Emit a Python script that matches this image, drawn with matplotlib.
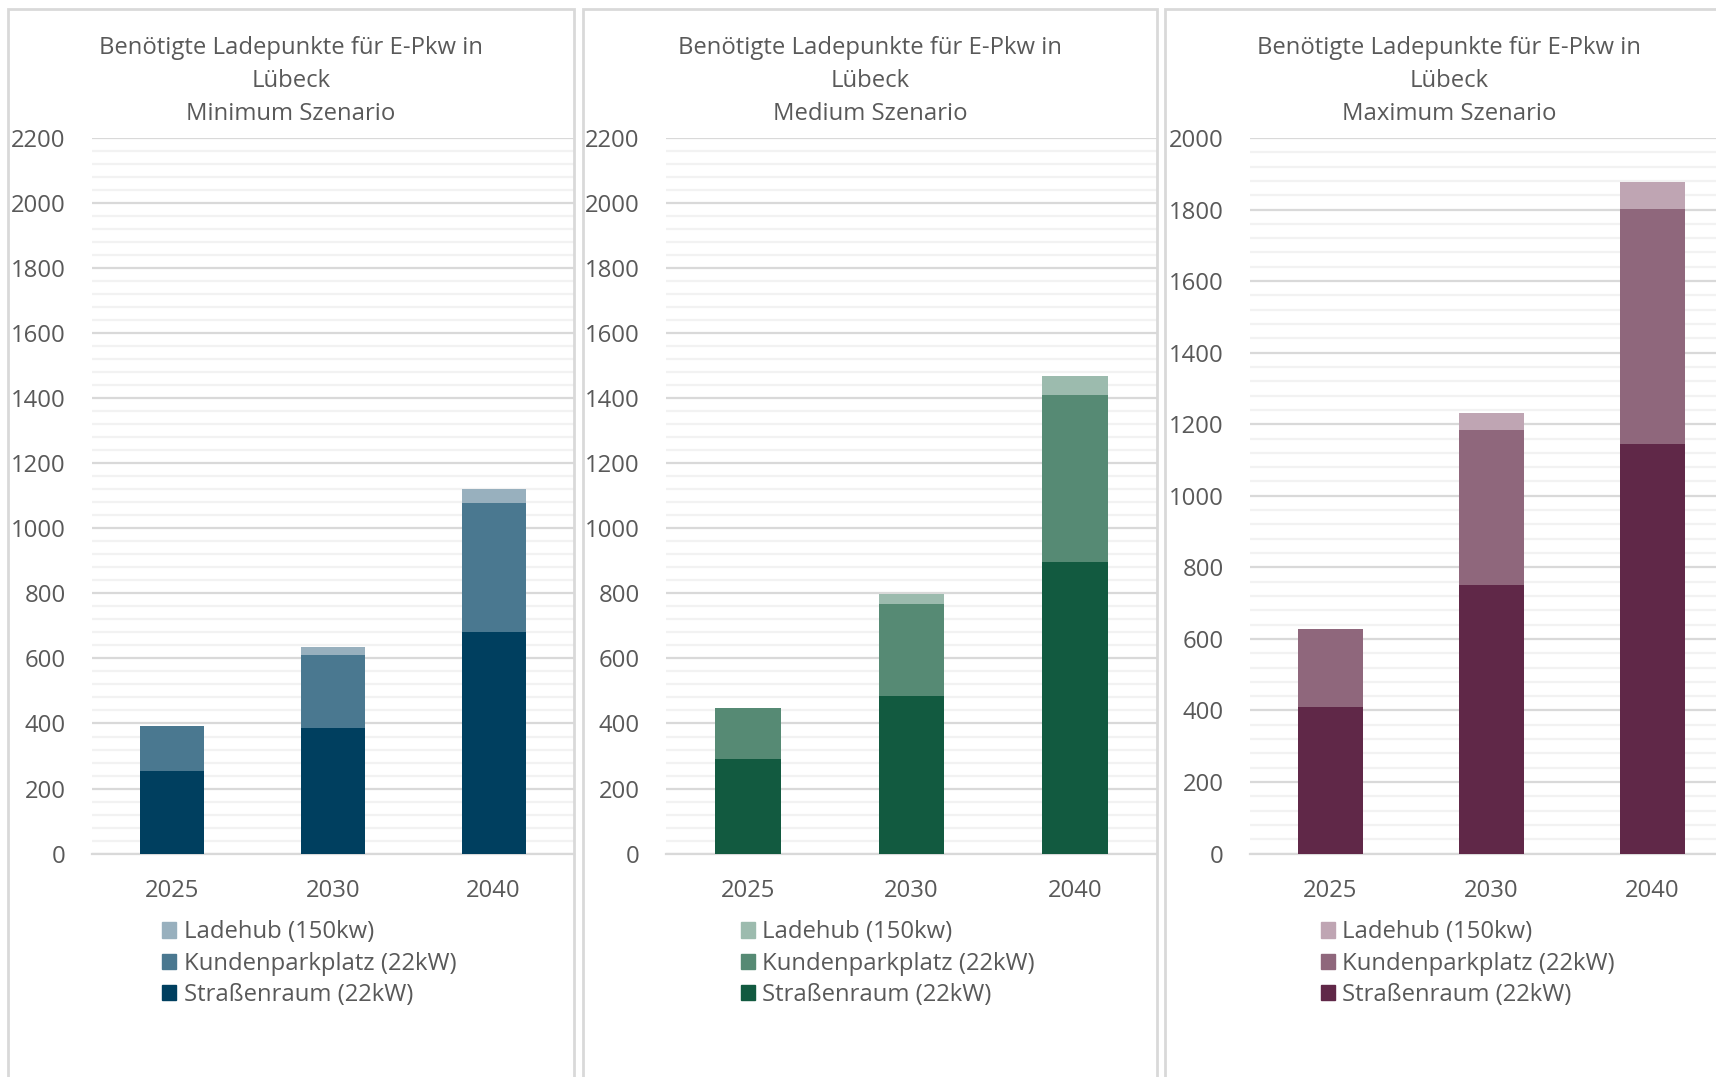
import numpy as np
import matplotlib.pyplot as plt
from matplotlib.patches import Rectangle, Patch

plt.rcParams['font.family'] = ['Open Sans', 'DejaVu Sans']

years = ['2025', '2030', '2040']
series = ['Straßenraum (22kW)', 'Kundenparkplatz (22kW)', 'Ladehub (150kw)']

# values
min_strasse = [254, 385, 682]
min_kunden = [138, 226, 397]
min_ladehub = [0, 24, 42]

med_strasse = [291, 485, 895]
med_kunden = [158, 282, 516]
med_ladehub = [0, 32, 56]

max_strasse = [409, 752, 1146]
max_kunden = [219, 433, 656]
max_ladehub = [0, 47, 75]

titles = ['Benötigte Ladepunkte für E-Pkw in\nLübeck\nMinimum Szenario',
          'Benötigte Ladepunkte für E-Pkw in\nLübeck\nMedium Szenario',
          'Benötigte Ladepunkte für E-Pkw in\nLübeck\nMaximum Szenario']
ymaxs = [2200, 2200, 2000]

colors = [['#003F5F', '#4A7890', '#98B0BE'],
          ['#125A40', '#568A74', '#9CBBAE'],
          ['#602848', '#8F677C', '#BFA5B3']]

data = [[min_strasse, min_kunden, min_ladehub],
        [med_strasse, med_kunden, med_ladehub],
        [max_strasse, max_kunden, max_ladehub]]

W, H = 1716, 1077
fig = plt.figure(figsize=(W / 100, H / 100), dpi=100)
txt = '#595959'
fs = 17.2

# pixel layout: panel box, plot area left/width, legend x, title x
panels = [(8, 566, 92, 482, 162, 291),
          (583, 574, 666, 491, 741, 870),
          (1165, 600, 1250, 483, 1321, 1449)]
y0, y1 = 853.6, 138.0

for k in range(3):
    bx, bw, ax_l, ax_w, lx, tx = panels[k]
    fig.patches.append(Rectangle((bx / W, -0.05), bw / W, (H - 9) / H + 0.05,
                                 transform=fig.transFigure, fill=False,
                                 edgecolor='#D9D9D9', lw=2))
    ax = fig.add_axes([ax_l / W, 1 - y0 / H, ax_w / W, (y0 - y1) / H])
    x = np.arange(3)
    bottom = np.zeros(3)
    handles = []
    for s in range(3):
        vals = np.array(data[k][s])
        ax.bar(x, vals, 0.4, bottom=bottom, color=colors[k][s], zorder=3)
        bottom += vals
        handles.append(Patch(color=colors[k][s], label=series[s]))
    ax.set_xlim(-0.5, 2.5)
    ax.set_ylim(0, ymaxs[k])
    ax.set_yticks(np.arange(0, ymaxs[k] + 1, 200))
    ax.set_yticks(np.arange(0, ymaxs[k] + 1, 40), minor=True)
    ax.grid(True, which='major', axis='y', color='#D9D9D9', lw=1.6, zorder=0)
    ax.grid(True, which='minor', axis='y', color='#F2F2F2', lw=1.6, zorder=0)
    ax.set_xticks(x)
    ax.set_xticklabels(years)
    ax.tick_params(axis='both', which='both', length=0, labelsize=fs, colors=txt)
    ax.tick_params(axis='y', pad=19)
    ax.tick_params(axis='x', pad=18.5)
    for sp in ['top', 'right', 'left']:
        ax.spines[sp].set_visible(False)
    ax.spines['bottom'].set_color('#D9D9D9')
    ax.spines['bottom'].set_linewidth(1.6)
    ax.set_facecolor('none')

    fig.text(tx / W, 1 - 36 / H, titles[k],
             ha='center', va='top', fontsize=fs, color=txt, linespacing=1.5)

    fig.legend(handles=handles[::-1], loc='upper left',
               bbox_to_anchor=(lx / W, 1 - 920.5 / H), frameon=False,
               fontsize=fs, labelcolor=txt, handlelength=0.6, handleheight=0.6,
               handletextpad=0.3, labelspacing=0.31, borderpad=0, borderaxespad=0)

fig.savefig('out.png', dpi=100)
